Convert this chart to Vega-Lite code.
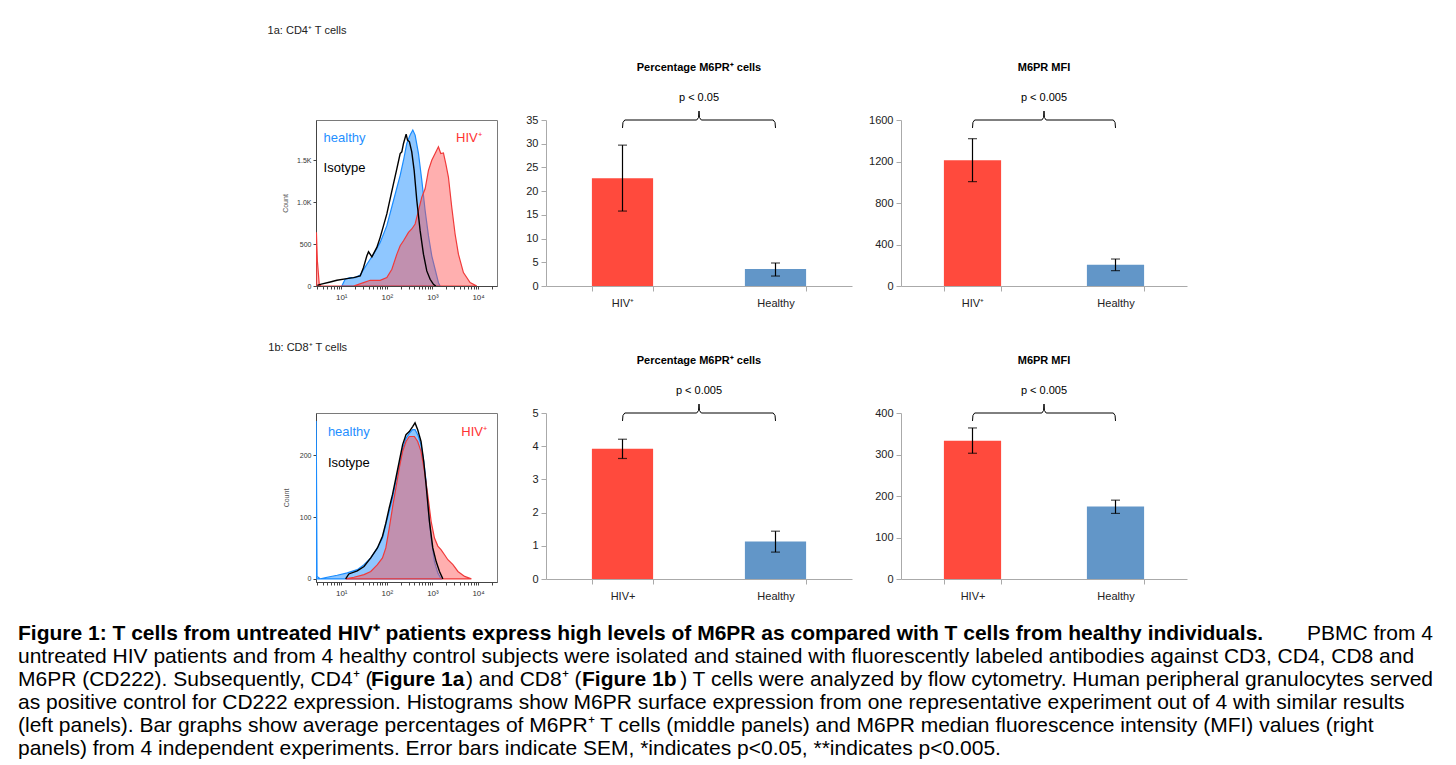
{
  "$schema": "https://vega.github.io/schema/vega-lite/v6.json",
  "background": "white",
  "padding": {"left": 18, "top": 24, "right": 5, "bottom": 2},
  "config": {
    "font": "Liberation Sans",
    "view": {"stroke": null},
    "axis": {"grid": false, "labelFont": "Liberation Sans", "titleFont": "Liberation Sans"},
    "title": {"font": "Liberation Sans", "subtitleFont": "Liberation Sans"}
  },
  "datasets": {
    "histA": [
      {"s": "healthy", "x": 10.3, "c": 0}, {"s": "healthy", "x": 12.2, "c": 80}, {"s": "healthy", "x": 15.7, "c": 100}, {"s": "healthy", "x": 20.3, "c": 100}, {"s": "healthy", "x": 26.1, "c": 132}, {"s": "healthy", "x": 36.5, "c": 260}, {"s": "healthy", "x": 51.1, "c": 380}, {"s": "healthy", "x": 71.5, "c": 520}, {"s": "healthy", "x": 100, "c": 720}, {"s": "healthy", "x": 140, "c": 1020}, {"s": "healthy", "x": 196, "c": 1320}, {"s": "healthy", "x": 232, "c": 1500}, {"s": "healthy", "x": 274, "c": 1700}, {"s": "healthy", "x": 324, "c": 1800}, {"s": "healthy", "x": 371, "c": 1860}, {"s": "healthy", "x": 417, "c": 1800}, {"s": "healthy", "x": 494, "c": 1580}, {"s": "healthy", "x": 584, "c": 1260}, {"s": "healthy", "x": 691, "c": 900}, {"s": "healthy", "x": 817, "c": 600}, {"s": "healthy", "x": 966, "c": 360}, {"s": "healthy", "x": 1143, "c": 200}, {"s": "healthy", "x": 1352, "c": 40}, {"s": "healthy", "x": 1471, "c": 0},
      {"s": "hiv", "x": 2.81, "c": 0}, {"s": "hiv", "x": 2.86, "c": 640}, {"s": "hiv", "x": 3.0, "c": 300}, {"s": "hiv", "x": 3.3, "c": 20}, {"s": "hiv", "x": 3.6, "c": 0}, {"s": "hiv", "x": 18.6, "c": 0}, {"s": "hiv", "x": 30.8, "c": 40}, {"s": "hiv", "x": 43.2, "c": 68}, {"s": "hiv", "x": 71.5, "c": 68}, {"s": "hiv", "x": 100, "c": 100}, {"s": "hiv", "x": 129, "c": 200}, {"s": "hiv", "x": 166, "c": 380}, {"s": "hiv", "x": 196, "c": 480}, {"s": "hiv", "x": 232, "c": 540}, {"s": "hiv", "x": 298, "c": 640}, {"s": "hiv", "x": 352, "c": 680}, {"s": "hiv", "x": 417, "c": 740}, {"s": "hiv", "x": 494, "c": 900}, {"s": "hiv", "x": 584, "c": 1060}, {"s": "hiv", "x": 691, "c": 1160}, {"s": "hiv", "x": 817, "c": 1380}, {"s": "hiv", "x": 966, "c": 1500}, {"s": "hiv", "x": 1143, "c": 1580}, {"s": "hiv", "x": 1352, "c": 1660}, {"s": "hiv", "x": 1520, "c": 1580}, {"s": "hiv", "x": 1740, "c": 1588}, {"s": "hiv", "x": 1959, "c": 1460}, {"s": "hiv", "x": 2239, "c": 1300}, {"s": "hiv", "x": 2649, "c": 940}, {"s": "hiv", "x": 3134, "c": 620}, {"s": "hiv", "x": 3708, "c": 380}, {"s": "hiv", "x": 4773, "c": 160}, {"s": "hiv", "x": 6683, "c": 40}, {"s": "hiv", "x": 9354, "c": 0},
      {"s": "iso", "x": 3.0, "c": 8}, {"s": "iso", "x": 3.47, "c": 20}, {"s": "iso", "x": 5.74, "c": 48}, {"s": "iso", "x": 8.04, "c": 68}, {"s": "iso", "x": 13.3, "c": 88}, {"s": "iso", "x": 18.6, "c": 100}, {"s": "iso", "x": 26.1, "c": 120}, {"s": "iso", "x": 30.8, "c": 220}, {"s": "iso", "x": 36.5, "c": 360}, {"s": "iso", "x": 39.7, "c": 408}, {"s": "iso", "x": 47.0, "c": 348}, {"s": "iso", "x": 60.4, "c": 460}, {"s": "iso", "x": 71.5, "c": 580}, {"s": "iso", "x": 84.6, "c": 720}, {"s": "iso", "x": 100, "c": 860}, {"s": "iso", "x": 118, "c": 1040}, {"s": "iso", "x": 140, "c": 1220}, {"s": "iso", "x": 166, "c": 1400}, {"s": "iso", "x": 196, "c": 1580}, {"s": "iso", "x": 213, "c": 1600}, {"s": "iso", "x": 232, "c": 1700}, {"s": "iso", "x": 265, "c": 1812}, {"s": "iso", "x": 284, "c": 1740}, {"s": "iso", "x": 313, "c": 1720}, {"s": "iso", "x": 352, "c": 1600}, {"s": "iso", "x": 397, "c": 1380}, {"s": "iso", "x": 454, "c": 1020}, {"s": "iso", "x": 537, "c": 660}, {"s": "iso", "x": 635, "c": 380}, {"s": "iso", "x": 751, "c": 180}, {"s": "iso", "x": 889, "c": 80}, {"s": "iso", "x": 1052, "c": 20}, {"s": "iso", "x": 1183, "c": 0}
    ],
    "histB": [
      {"s": "healthy", "x": 2.81, "c": 0}, {"s": "healthy", "x": 2.83, "c": 255}, {"s": "healthy", "x": 2.95, "c": 4}, {"s": "healthy", "x": 3.5, "c": 0}, {"s": "healthy", "x": 4.91, "c": 2.7}, {"s": "healthy", "x": 8.17, "c": 5.9}, {"s": "healthy", "x": 13.6, "c": 9.7}, {"s": "healthy", "x": 22.5, "c": 15}, {"s": "healthy", "x": 31.6, "c": 23}, {"s": "healthy", "x": 44.4, "c": 34}, {"s": "healthy", "x": 62.2, "c": 50}, {"s": "healthy", "x": 80.2, "c": 66}, {"s": "healthy", "x": 95.0, "c": 88}, {"s": "healthy", "x": 113, "c": 109}, {"s": "healthy", "x": 133, "c": 131}, {"s": "healthy", "x": 158, "c": 158}, {"s": "healthy", "x": 187, "c": 184}, {"s": "healthy", "x": 222, "c": 211}, {"s": "healthy", "x": 263, "c": 227}, {"s": "healthy", "x": 311, "c": 235}, {"s": "healthy", "x": 368, "c": 241}, {"s": "healthy", "x": 415, "c": 241}, {"s": "healthy", "x": 475, "c": 233}, {"s": "healthy", "x": 562, "c": 217}, {"s": "healthy", "x": 644, "c": 190}, {"s": "healthy", "x": 725, "c": 158}, {"s": "healthy", "x": 817, "c": 109}, {"s": "healthy", "x": 935, "c": 66}, {"s": "healthy", "x": 1107, "c": 28}, {"s": "healthy", "x": 1312, "c": 9.7}, {"s": "healthy", "x": 1553, "c": 0},
      {"s": "hiv", "x": 12.5, "c": 0}, {"s": "hiv", "x": 19.0, "c": 2.7}, {"s": "hiv", "x": 31.6, "c": 7}, {"s": "hiv", "x": 44.4, "c": 12}, {"s": "hiv", "x": 62.2, "c": 23}, {"s": "hiv", "x": 80.2, "c": 34}, {"s": "hiv", "x": 95.0, "c": 50}, {"s": "hiv", "x": 113, "c": 82}, {"s": "hiv", "x": 133, "c": 115}, {"s": "hiv", "x": 158, "c": 147}, {"s": "hiv", "x": 187, "c": 179}, {"s": "hiv", "x": 222, "c": 206}, {"s": "hiv", "x": 263, "c": 222}, {"s": "hiv", "x": 311, "c": 230}, {"s": "hiv", "x": 401, "c": 230}, {"s": "hiv", "x": 475, "c": 222}, {"s": "hiv", "x": 562, "c": 206}, {"s": "hiv", "x": 667, "c": 174}, {"s": "hiv", "x": 789, "c": 136}, {"s": "hiv", "x": 935, "c": 93}, {"s": "hiv", "x": 1107, "c": 66}, {"s": "hiv", "x": 1312, "c": 53}, {"s": "hiv", "x": 1553, "c": 47}, {"s": "hiv", "x": 1839, "c": 39}, {"s": "hiv", "x": 2178, "c": 31}, {"s": "hiv", "x": 2811, "c": 23}, {"s": "hiv", "x": 3622, "c": 12}, {"s": "hiv", "x": 5082, "c": 4}, {"s": "hiv", "x": 7129, "c": 0},
      {"s": "iso", "x": 12.5, "c": 0}, {"s": "iso", "x": 14.7, "c": 8}, {"s": "iso", "x": 22.5, "c": 13}, {"s": "iso", "x": 31.6, "c": 20}, {"s": "iso", "x": 44.4, "c": 34}, {"s": "iso", "x": 62.2, "c": 50}, {"s": "iso", "x": 80.2, "c": 69}, {"s": "iso", "x": 95.0, "c": 90}, {"s": "iso", "x": 113, "c": 115}, {"s": "iso", "x": 133, "c": 136}, {"s": "iso", "x": 158, "c": 163}, {"s": "iso", "x": 187, "c": 190}, {"s": "iso", "x": 222, "c": 217}, {"s": "iso", "x": 263, "c": 233}, {"s": "iso", "x": 311, "c": 238}, {"s": "iso", "x": 368, "c": 246}, {"s": "iso", "x": 415, "c": 252}, {"s": "iso", "x": 475, "c": 241}, {"s": "iso", "x": 562, "c": 222}, {"s": "iso", "x": 644, "c": 190}, {"s": "iso", "x": 725, "c": 152}, {"s": "iso", "x": 859, "c": 93}, {"s": "iso", "x": 1017, "c": 50}, {"s": "iso", "x": 1205, "c": 28}, {"s": "iso", "x": 1427, "c": 12}, {"s": "iso", "x": 1690, "c": 0}
    ],
    "labA": [{"t": "healthy", "x": 4.1, "c": 1760}, {"t": "Isotype", "x": 4.1, "c": 1408}, {"t": "HIV⁺", "x": 3300, "c": 1760}],
    "labB": [{"t": "healthy", "x": 5.1, "c": 238}, {"t": "Isotype", "x": 5.1, "c": 188}, {"t": "HIV⁺", "x": 4290, "c": 238}],
    "bracket": [
      {"i": 0, "bx": 0.5, "by": 0.952}, {"i": 1, "bx": 0.503, "by": 0.985}, {"i": 2, "bx": 0.515, "by": 1.0}, {"i": 3, "bx": 0.985, "by": 1.0}, {"i": 4, "bx": 0.997, "by": 1.015}, {"i": 5, "bx": 1.0, "by": 1.054}, {"i": 6, "bx": 1.003, "by": 1.015}, {"i": 7, "bx": 1.015, "by": 1.0}, {"i": 8, "bx": 1.485, "by": 1.0}, {"i": 9, "bx": 1.497, "by": 0.985}, {"i": 10, "bx": 1.5, "by": 0.952}
    ],
    "caption": [
      {"line": 1, "k": "bl", "t": "Figure 1: T cells from untreated HIV⁺ patients express high levels of M6PR as compared with T cells from healthy individuals."},
      {"line": 1, "k": "rr", "t": "PBMC from 4"},
      {"line": 2, "k": "rl", "t": "untreated HIV patients and from 4 healthy control subjects were isolated and stained with fluorescently labeled antibodies against CD3, CD4, CD8 and"},
      {"line": 3, "k": "rl", "t": "M6PR (CD222). Subsequently, CD4⁺ ("},
      {"line": 3, "k": "b1", "t": "Figure 1a"},
      {"line": 3, "k": "r2", "t": ") and CD8⁺ ("},
      {"line": 3, "k": "b2", "t": "Figure 1b"},
      {"line": 3, "k": "rr", "t": ") T cells were analyzed by flow cytometry. Human peripheral granulocytes served"},
      {"line": 4, "k": "rl", "t": "as positive control for CD222 expression. Histograms show M6PR surface expression from one representative experiment out of 4 with similar results"},
      {"line": 5, "k": "rl", "t": "(left panels). Bar graphs show average percentages of M6PR⁺ T cells (middle panels) and M6PR median fluorescence intensity (MFI) values (right"},
      {"line": 6, "k": "rl", "t": "panels) from 4 independent experiments. Error bars indicate SEM, *indicates p<0.05, **indicates p<0.005."}
    ]
  },
  "columns": 3,
  "spacing": {"row": 127, "column": 49},
  "bounds": "flush",
  "align": "each",
  "concat": [
    {
      "width": 181, "height": 166,
      "view": {"stroke": "#7a7a7a"},
      "title": {"text": "1a: CD4⁺ T cells", "anchor": "start", "fontSize": 11, "fontWeight": "normal", "color": "#222", "offset": 84, "dx": -14},
      "layer": [
        {"data": {"name": "histA"}, "transform": [{"filter": "datum.s == 'healthy'"}],
         "mark": {"type": "area", "fill": "#3399ff", "fillOpacity": 0.55, "stroke": "#1a8cff", "strokeWidth": 1.2, "clip": true},
         "encoding": {
           "x": {"field": "x", "type": "quantitative", "scale": {"type": "log", "domain": [2.8, 26000], "nice": false},
                 "axis": {"title": null, "values": [3,4,5,6,7,8,9,10,20,30,40,50,60,70,80,90,100,200,300,400,500,600,700,800,900,1000,2000,3000,4000,5000,6000,7000,8000,9000,10000,20000], "labelExpr": "datum.value == 10 ? '10¹' : datum.value == 100 ? '10²' : datum.value == 1000 ? '10³' : datum.value == 10000 ? '10⁴' : ''", "labelOverlap": false, "labelFontSize": 8, "labelColor": "#333", "tickSize": 3, "tickColor": "#444", "domainColor": "#444", "labelPadding": 4}},
           "y": {"field": "c", "type": "quantitative", "scale": {"domain": [0, 1980], "nice": false},
                 "axis": {"title": "Count", "titleFontSize": 7, "titleFontWeight": "normal", "titleColor": "#555", "titlePadding": 8, "values": [0, 500, 1000, 1500], "labelOverlap": false, "labelExpr": "datum.value >= 1000 ? format(datum.value / 1000, '.1f') + 'K' : datum.label", "labelFontSize": 7, "labelColor": "#333", "tickSize": 3, "tickColor": "#444", "domainColor": "#444", "labelPadding": 2}}
         }},
        {"data": {"name": "histA"}, "transform": [{"filter": "datum.s == 'hiv'"}],
         "mark": {"type": "area", "fill": "#ff4d4d", "fillOpacity": 0.45, "stroke": "#f03a3a", "strokeWidth": 1.2, "clip": true},
         "encoding": {"x": {"field": "x", "type": "quantitative"}, "y": {"field": "c", "type": "quantitative"}}},
        {"data": {"name": "histA"}, "transform": [{"filter": "datum.s == 'iso'"}],
         "mark": {"type": "line", "color": "#000", "strokeWidth": 1.4, "clip": true},
         "encoding": {"x": {"field": "x", "type": "quantitative"}, "y": {"field": "c", "type": "quantitative"}}},
        {"data": {"name": "labA"},
         "mark": {"type": "text", "align": "left", "baseline": "middle", "fontSize": 13},
         "encoding": {"x": {"field": "x", "type": "quantitative"}, "y": {"field": "c", "type": "quantitative"}, "text": {"field": "t"},
           "color": {"condition": [{"test": "datum.t == 'healthy'", "value": "#1f8fff"}, {"test": "datum.t == 'Isotype'", "value": "#000000"}], "value": "#ff3333"}}}
      ]
    },
    {
      "width": 306, "height": 166,
      "title": {"text": "Percentage M6PR⁺ cells", "subtitle": "p < 0.05", "fontSize": 11, "fontWeight": "bold", "color": "#000", "subtitleFontSize": 11, "subtitleColor": "#000", "subtitlePadding": 19, "offset": 6, "anchor": "middle"},
      "layer": [
        {"data": {"values": [{"g": "HIV⁺", "v": 22.7, "lo": 15.8, "hi": 29.7}, {"g": "Healthy", "v": 3.6, "lo": 2.1, "hi": 4.85}]},
         "layer": [
           {"mark": {"type": "bar"},
            "encoding": {
              "x": {"field": "g", "type": "nominal", "sort": ["HIV⁺", "Healthy"], "scale": {"paddingInner": 0.6, "paddingOuter": 0.3},
                    "axis": {"title": null, "labelAngle": 0, "labelFontSize": 11, "labelColor": "#222", "tickBand": "extent", "tickColor": "#aaa", "domainColor": "#aaa", "tickSize": 5, "labelPadding": 6}},
              "y": {"field": "v", "type": "quantitative", "title": null, "scale": {"domain": [0, 35]},
                    "axis": {"values": [0, 5, 10, 15, 20, 25, 30, 35], "labelOverlap": false, "labelFontSize": 11, "labelColor": "#222", "tickColor": "#aaa", "domainColor": "#aaa", "tickSize": 5, "labelPadding": 3}},
              "color": {"condition": {"test": "datum.g == 'Healthy'", "value": "#6296c8"}, "value": "#ff4a3d"}
            }},
           {"mark": {"type": "errorbar", "ticks": {"size": 9}, "color": "#000", "thickness": 1.2},
            "encoding": {"x": {"field": "g", "type": "nominal", "sort": ["HIV⁺", "Healthy"]},
              "y": {"field": "lo", "type": "quantitative", "title": null, "axis": {"values": [0, 5, 10, 15, 20, 25, 30, 35], "labelOverlap": false, "labelFontSize": 11, "labelColor": "#222", "tickColor": "#aaa", "domainColor": "#aaa", "tickSize": 5, "labelPadding": 3}},
              "y2": {"field": "hi"}}}
         ]},
        {"data": {"name": "bracket"}, "mark": {"type": "line", "color": "#000", "strokeWidth": 1},
         "encoding": {"x": {"field": "bx", "type": "quantitative", "scale": {"domain": [0, 2]}, "axis": null}, "y": {"field": "by", "type": "quantitative", "scale": {"domain": [0, 1]}, "axis": null}, "order": {"field": "i"}}}
      ],
      "resolve": {"scale": {"x": "independent", "y": "independent"}}
    },
    {
      "width": 286, "height": 166,
      "title": {"text": "M6PR MFI", "subtitle": "p < 0.005", "fontSize": 11, "fontWeight": "bold", "color": "#000", "subtitleFontSize": 11, "subtitleColor": "#000", "subtitlePadding": 19, "offset": 6, "anchor": "middle"},
      "layer": [
        {"data": {"values": [{"g": "HIV⁺", "v": 1211, "lo": 1006, "hi": 1420}, {"g": "Healthy", "v": 206, "lo": 148, "hi": 260}]},
         "layer": [
           {"mark": {"type": "bar"},
            "encoding": {
              "x": {"field": "g", "type": "nominal", "sort": ["HIV⁺", "Healthy"], "scale": {"paddingInner": 0.6, "paddingOuter": 0.3},
                    "axis": {"title": null, "labelAngle": 0, "labelFontSize": 11, "labelColor": "#222", "tickBand": "extent", "tickColor": "#aaa", "domainColor": "#aaa", "tickSize": 5, "labelPadding": 6}},
              "y": {"field": "v", "type": "quantitative", "title": null, "scale": {"domain": [0, 1600]},
                    "axis": {"values": [0, 400, 800, 1200, 1600], "format": "d", "labelOverlap": false, "labelFontSize": 11, "labelColor": "#222", "tickColor": "#aaa", "domainColor": "#aaa", "tickSize": 5, "labelPadding": 3}},
              "color": {"condition": {"test": "datum.g == 'Healthy'", "value": "#6296c8"}, "value": "#ff4a3d"}
            }},
           {"mark": {"type": "errorbar", "ticks": {"size": 9}, "color": "#000", "thickness": 1.2},
            "encoding": {"x": {"field": "g", "type": "nominal", "sort": ["HIV⁺", "Healthy"]},
              "y": {"field": "lo", "type": "quantitative", "title": null, "axis": {"values": [0, 400, 800, 1200, 1600], "format": "d", "labelOverlap": false, "labelFontSize": 11, "labelColor": "#222", "tickColor": "#aaa", "domainColor": "#aaa", "tickSize": 5, "labelPadding": 3}},
              "y2": {"field": "hi"}}}
         ]},
        {"data": {"name": "bracket"}, "mark": {"type": "line", "color": "#000", "strokeWidth": 1},
         "encoding": {"x": {"field": "bx", "type": "quantitative", "scale": {"domain": [0, 2]}, "axis": null}, "y": {"field": "by", "type": "quantitative", "scale": {"domain": [0, 1]}, "axis": null}, "order": {"field": "i"}}}
      ],
      "resolve": {"scale": {"x": "independent", "y": "independent"}}
    },
    {
      "width": 181, "height": 169,
      "view": {"stroke": "#7a7a7a"},
      "title": {"text": "1b: CD8⁺ T cells", "anchor": "start", "fontSize": 11, "fontWeight": "normal", "color": "#222", "offset": 60, "dx": -14},
      "layer": [
        {"data": {"name": "histB"}, "transform": [{"filter": "datum.s == 'healthy'"}],
         "mark": {"type": "area", "fill": "#3399ff", "fillOpacity": 0.55, "stroke": "#1a8cff", "strokeWidth": 1.2, "clip": true},
         "encoding": {
           "x": {"field": "x", "type": "quantitative", "scale": {"type": "log", "domain": [2.8, 26000], "nice": false},
                 "axis": {"title": null, "values": [3,4,5,6,7,8,9,10,20,30,40,50,60,70,80,90,100,200,300,400,500,600,700,800,900,1000,2000,3000,4000,5000,6000,7000,8000,9000,10000,20000], "labelExpr": "datum.value == 10 ? '10¹' : datum.value == 100 ? '10²' : datum.value == 1000 ? '10³' : datum.value == 10000 ? '10⁴' : ''", "labelOverlap": false, "labelFontSize": 8, "labelColor": "#333", "tickSize": 3, "tickColor": "#444", "domainColor": "#444", "labelPadding": 4}},
           "y": {"field": "c", "type": "quantitative", "scale": {"domain": [-5, 268], "nice": false, "zero": false},
                 "axis": {"title": "Count", "titleFontSize": 7, "titleFontWeight": "normal", "titleColor": "#555", "titlePadding": 10, "values": [0, 50, 100, 150, 200, 250], "labelOverlap": false, "labelFontSize": 7, "labelColor": "#333", "tickSize": 3, "tickColor": "#444", "domainColor": "#444", "labelPadding": 2}}
         }},
        {"data": {"name": "histB"}, "transform": [{"filter": "datum.s == 'hiv'"}],
         "mark": {"type": "area", "fill": "#ff4d4d", "fillOpacity": 0.45, "stroke": "#f03a3a", "strokeWidth": 1.2, "clip": true},
         "encoding": {"x": {"field": "x", "type": "quantitative"}, "y": {"field": "c", "type": "quantitative"}}},
        {"data": {"name": "histB"}, "transform": [{"filter": "datum.s == 'iso'"}],
         "mark": {"type": "line", "color": "#000", "strokeWidth": 1.4, "clip": true},
         "encoding": {"x": {"field": "x", "type": "quantitative"}, "y": {"field": "c", "type": "quantitative"}}},
        {"data": {"name": "labB"},
         "mark": {"type": "text", "align": "left", "baseline": "middle", "fontSize": 13},
         "encoding": {"x": {"field": "x", "type": "quantitative"}, "y": {"field": "c", "type": "quantitative"}, "text": {"field": "t"},
           "color": {"condition": [{"test": "datum.t == 'healthy'", "value": "#1f8fff"}, {"test": "datum.t == 'Isotype'", "value": "#000000"}], "value": "#ff3333"}}}
      ]
    },
    {
      "width": 306, "height": 166,
      "title": {"text": "Percentage M6PR⁺ cells", "subtitle": "p < 0.005", "fontSize": 11, "fontWeight": "bold", "color": "#000", "subtitleFontSize": 11, "subtitleColor": "#000", "subtitlePadding": 19, "offset": 6, "anchor": "middle"},
      "layer": [
        {"data": {"values": [{"g": "HIV+", "v": 3.92, "lo": 3.63, "hi": 4.21}, {"g": "Healthy", "v": 1.13, "lo": 0.81, "hi": 1.44}]},
         "layer": [
           {"mark": {"type": "bar"},
            "encoding": {
              "x": {"field": "g", "type": "nominal", "sort": ["HIV+", "Healthy"], "scale": {"paddingInner": 0.6, "paddingOuter": 0.3},
                    "axis": {"title": null, "labelAngle": 0, "labelFontSize": 11, "labelColor": "#222", "tickBand": "extent", "tickColor": "#aaa", "domainColor": "#aaa", "tickSize": 5, "labelPadding": 6}},
              "y": {"field": "v", "type": "quantitative", "title": null, "scale": {"domain": [0, 5]},
                    "axis": {"values": [0, 1, 2, 3, 4, 5], "labelOverlap": false, "labelFontSize": 11, "labelColor": "#222", "tickColor": "#aaa", "domainColor": "#aaa", "tickSize": 5, "labelPadding": 3}},
              "color": {"condition": {"test": "datum.g == 'Healthy'", "value": "#6296c8"}, "value": "#ff4a3d"}
            }},
           {"mark": {"type": "errorbar", "ticks": {"size": 9}, "color": "#000", "thickness": 1.2},
            "encoding": {"x": {"field": "g", "type": "nominal", "sort": ["HIV+", "Healthy"]},
              "y": {"field": "lo", "type": "quantitative", "title": null, "axis": {"values": [0, 1, 2, 3, 4, 5], "labelOverlap": false, "labelFontSize": 11, "labelColor": "#222", "tickColor": "#aaa", "domainColor": "#aaa", "tickSize": 5, "labelPadding": 3}},
              "y2": {"field": "hi"}}}
         ]},
        {"data": {"name": "bracket"}, "mark": {"type": "line", "color": "#000", "strokeWidth": 1},
         "encoding": {"x": {"field": "bx", "type": "quantitative", "scale": {"domain": [0, 2]}, "axis": null}, "y": {"field": "by", "type": "quantitative", "scale": {"domain": [0, 1]}, "axis": null}, "order": {"field": "i"}}}
      ],
      "resolve": {"scale": {"x": "independent", "y": "independent"}}
    },
    {
      "width": 286, "height": 166,
      "title": {"text": "M6PR MFI", "subtitle": "p < 0.005", "fontSize": 11, "fontWeight": "bold", "color": "#000", "subtitleFontSize": 11, "subtitleColor": "#000", "subtitlePadding": 19, "offset": 6, "anchor": "middle"},
      "layer": [
        {"data": {"values": [{"g": "HIV+", "v": 333, "lo": 303, "hi": 364}, {"g": "Healthy", "v": 175, "lo": 158, "hi": 190}]},
         "layer": [
           {"mark": {"type": "bar"},
            "encoding": {
              "x": {"field": "g", "type": "nominal", "sort": ["HIV+", "Healthy"], "scale": {"paddingInner": 0.6, "paddingOuter": 0.3},
                    "axis": {"title": null, "labelAngle": 0, "labelFontSize": 11, "labelColor": "#222", "tickBand": "extent", "tickColor": "#aaa", "domainColor": "#aaa", "tickSize": 5, "labelPadding": 6}},
              "y": {"field": "v", "type": "quantitative", "title": null, "scale": {"domain": [0, 400]},
                    "axis": {"values": [0, 100, 200, 300, 400], "labelOverlap": false, "labelFontSize": 11, "labelColor": "#222", "tickColor": "#aaa", "domainColor": "#aaa", "tickSize": 5, "labelPadding": 3}},
              "color": {"condition": {"test": "datum.g == 'Healthy'", "value": "#6296c8"}, "value": "#ff4a3d"}
            }},
           {"mark": {"type": "errorbar", "ticks": {"size": 9}, "color": "#000", "thickness": 1.2},
            "encoding": {"x": {"field": "g", "type": "nominal", "sort": ["HIV+", "Healthy"]},
              "y": {"field": "lo", "type": "quantitative", "title": null, "axis": {"values": [0, 100, 200, 300, 400], "labelOverlap": false, "labelFontSize": 11, "labelColor": "#222", "tickColor": "#aaa", "domainColor": "#aaa", "tickSize": 5, "labelPadding": 3}},
              "y2": {"field": "hi"}}}
         ]},
        {"data": {"name": "bracket"}, "mark": {"type": "line", "color": "#000", "strokeWidth": 1},
         "encoding": {"x": {"field": "bx", "type": "quantitative", "scale": {"domain": [0, 2]}, "axis": null}, "y": {"field": "by", "type": "quantitative", "scale": {"domain": [0, 1]}, "axis": null}, "order": {"field": "i"}}}
      ],
      "resolve": {"scale": {"x": "independent", "y": "independent"}}
    },
    {
      "width": 181, "height": 138,
      "data": {"name": "caption"},
      "encoding": {"y": {"field": "line", "type": "ordinal", "axis": null}},
      "layer": [
        {"transform": [{"filter": "datum.k == 'bl'"}], "mark": {"type": "text", "align": "left", "baseline": "middle", "fontSize": 21, "fontWeight": "bold", "color": "#000", "dx": -298, "dy": -87},
         "encoding": {"x": {"datum": 0, "type": "quantitative", "scale": {"domain": [0, 1]}, "axis": null}, "text": {"field": "t"}}},
        {"transform": [{"filter": "datum.k == 'rl'"}], "mark": {"type": "text", "align": "left", "baseline": "middle", "fontSize": 21, "color": "#000", "dx": -298, "dy": -87},
         "encoding": {"x": {"datum": 0, "type": "quantitative"}, "text": {"field": "t"}}},
        {"transform": [{"filter": "datum.k == 'rr'"}], "mark": {"type": "text", "align": "right", "baseline": "middle", "fontSize": 21, "color": "#000", "dx": 936, "dy": -87},
         "encoding": {"x": {"datum": 1, "type": "quantitative"}, "text": {"field": "t"}}},
        {"transform": [{"filter": "datum.k == 'b1'"}], "mark": {"type": "text", "align": "left", "baseline": "middle", "fontSize": 21, "fontWeight": "bold", "color": "#000", "dx": 55, "dy": -87},
         "encoding": {"x": {"datum": 0, "type": "quantitative"}, "text": {"field": "t"}}},
        {"transform": [{"filter": "datum.k == 'r2'"}], "mark": {"type": "text", "align": "left", "baseline": "middle", "fontSize": 21, "color": "#000", "dx": 150, "dy": -87},
         "encoding": {"x": {"datum": 0, "type": "quantitative"}, "text": {"field": "t"}}},
        {"transform": [{"filter": "datum.k == 'b2'"}], "mark": {"type": "text", "align": "left", "baseline": "middle", "fontSize": 21, "fontWeight": "bold", "color": "#000", "dx": 266, "dy": -87},
         "encoding": {"x": {"datum": 0, "type": "quantitative"}, "text": {"field": "t"}}}
      ]
    }
  ]
}
